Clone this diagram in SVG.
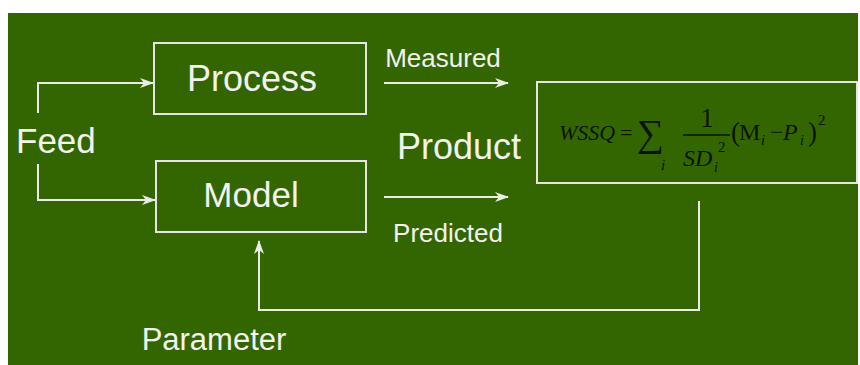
<svg xmlns="http://www.w3.org/2000/svg" width="860" height="365" viewBox="0 0 860 365">
<defs>
<style>
.lbl{font-family:"Liberation Sans",Arial,sans-serif;fill:#f2f2ee}
.box{fill:none;stroke:#e6e6e0;stroke-width:2}
.con{fill:none;stroke:#ecece6;stroke-width:2}
.fx{font-family:"Liberation Serif","Times New Roman",serif;fill:#0a1200}
.it{font-style:italic}
</style>
<marker id="ah" viewBox="0 0 14 10" refX="13" refY="5" markerWidth="14" markerHeight="10" markerUnits="userSpaceOnUse" orient="auto">
<path d="M0,0 L14,5 L0,10 L4,5 z" fill="#ecece6"/>
</marker>
</defs>
<rect x="0" y="0" width="860" height="365" fill="#ffffff"/>
<rect x="8" y="13" width="850" height="352" fill="#336600"/>

<g id="connectors">
<path class="con" d="M38,113 V83 H153" marker-end="url(#ah)"/>
<path class="con" d="M38,164 V200 H155" marker-end="url(#ah)"/>
<path class="con" d="M384,83 H508" marker-end="url(#ah)"/>
<path class="con" d="M384,197 H508" marker-end="url(#ah)"/>
<path class="con" d="M699,201 V310 H259 V241" marker-end="url(#ah)"/>
</g>

<g id="feed"><text class="lbl" x="16" y="153" font-size="35">Feed</text></g>

<g id="process">
<rect class="box" x="154" y="43" width="212" height="71"/>
<text class="lbl" x="252" y="91" font-size="36" text-anchor="middle">Process</text>
</g>

<g id="model">
<rect class="box" x="156" y="161" width="210" height="71"/>
<text class="lbl" x="251" y="207" font-size="35" text-anchor="middle">Model</text>
</g>

<g id="labels">
<text class="lbl" x="443" y="67" font-size="26" text-anchor="middle">Measured</text>
<text class="lbl" x="459" y="159" font-size="36" text-anchor="middle">Product</text>
<text class="lbl" x="448" y="242" font-size="26" text-anchor="middle">Predicted</text>
<text class="lbl" x="214" y="350" font-size="31" text-anchor="middle">Parameter</text>
</g>

<g id="formula">
<rect class="box" x="537" y="82" width="320" height="101"/>
<text class="fx it" x="559" y="140" font-size="22">WSSQ</text>
<text class="fx" x="620" y="140" font-size="22">=</text>
<text class="fx" x="637" y="146" font-size="38">∑</text>
<text class="fx it" x="661" y="170" font-size="15">i</text>
<text class="fx" x="707" y="127" font-size="27" text-anchor="middle">1</text>
<line x1="683" y1="135" x2="730" y2="135" stroke="#0a1200" stroke-width="1.3"/>
<text class="fx it" x="683" y="166" font-size="24">SD</text>
<text class="fx it" x="714" y="172" font-size="14">i</text>
<text class="fx" x="718" y="152" font-size="15">2</text>
<text class="fx" x="731" y="141" font-size="27">(</text>
<text class="fx" x="739" y="140" font-size="24">M</text>
<text class="fx it" x="761" y="145" font-size="14">i</text>
<text class="fx" x="770" y="140" font-size="24">−</text>
<text class="fx it" x="783" y="140" font-size="24">P</text>
<text class="fx it" x="800" y="145" font-size="14">i</text>
<text class="fx" x="808" y="141" font-size="27">)</text>
<text class="fx" x="818" y="125" font-size="15">2</text>
</g>
</svg>
